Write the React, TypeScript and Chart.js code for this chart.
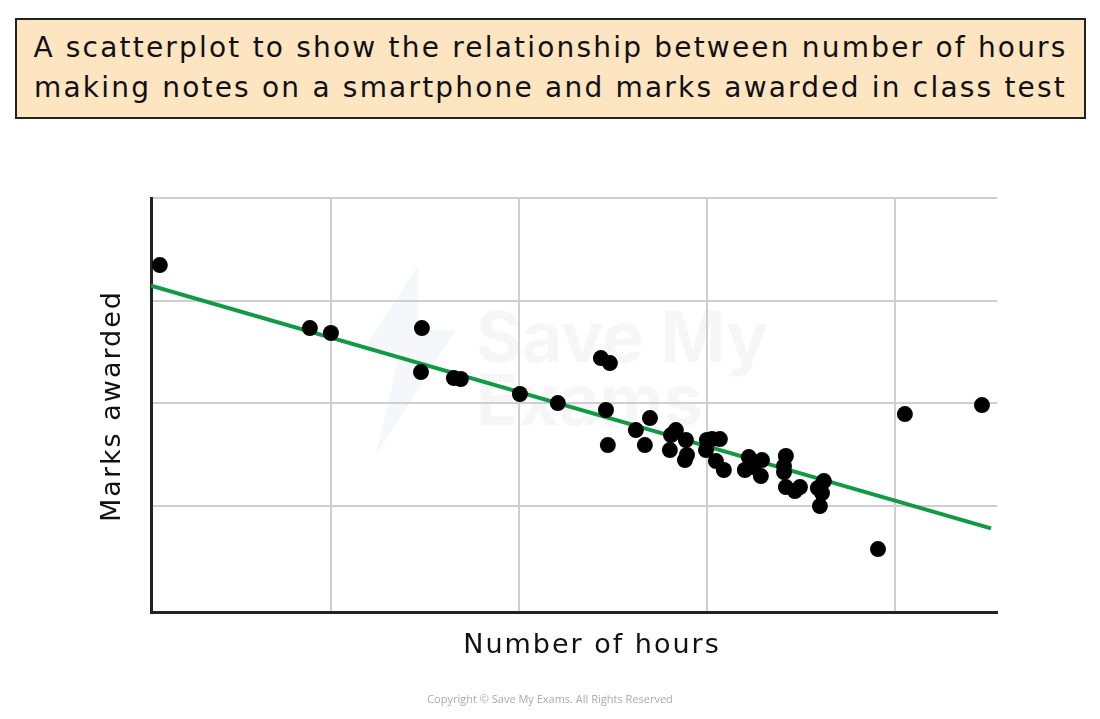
import React, { useEffect, useRef } from "react";
import { Chart, registerables } from "chart.js";

Chart.register(...registerables);

// Data
const hours = [
  0.09, 0.888, 1.0, 1.484, 1.479, 1.654, 1.691, 2.005, 2.207, 2.436, 2.484, 2.463, 2.473,
  2.622, 2.67, 2.697, 2.803, 2.809, 2.835, 2.888, 2.883, 2.894, 3.0, 3.027, 3.069, 2.995,
  3.048, 3.09, 3.202, 3.223, 3.245, 3.287, 3.293, 3.42, 3.41, 3.41, 3.42, 3.468, 3.495,
  3.59, 3.612, 3.622, 3.601, 3.91, 4.053, 4.463,
];
const marks = [
  33.47, 27.33, 26.85, 27.33, 23.05, 22.46, 22.37, 20.91, 20.03, 24.41, 23.92, 19.35, 15.94,
  17.4, 15.94, 18.57, 15.45, 16.91, 17.4, 16.43, 14.48, 14.97, 16.43, 16.52, 16.52, 15.45,
  14.38, 13.51, 13.51, 14.77, 13.8, 12.92, 14.48, 14.87, 13.89, 13.31, 11.85, 11.46, 11.85,
  11.75, 11.27, 12.43, 10.0, 5.81, 18.96, 19.83,
];
const trendHours = [0.043, 4.511];
const trendMarks = [31.45, 7.83];
const xGridValues = [1, 2, 3, 4];
const yGridValues = [10, 20, 30, 40];
const titleLines = [
  "A scatterplot to show the relationship between number of hours",
  "making notes on a smartphone and marks awarded in class test",
];
const xAxisTitle = "Number of hours";
const yAxisTitle = "Marks awarded";
const copyrightText = "Copyright © Save My Exams. All Rights Reserved";

const FONT = '"DejaVu Sans", "Noto Sans", sans-serif';

const watermarkPlugin = {
  id: "watermark",
  beforeDraw(chart: any) {
    const ctx = chart.ctx;
    ctx.save();
    ctx.fillStyle = "rgba(225,228,242,0.3)";
    ctx.beginPath();
    ctx.moveTo(418, 265);
    ctx.lineTo(362, 352);
    ctx.lineTo(400, 352);
    ctx.lineTo(376, 455);
    ctx.lineTo(456, 330);
    ctx.lineTo(418, 330);
    ctx.closePath();
    ctx.fill();
    ctx.fillStyle = "rgba(0,0,0,0.035)";
    ctx.font = 'bold 70px Inter, "Noto Sans", sans-serif';
    ctx.textBaseline = "alphabetic";
    ctx.textAlign = "left";
    ctx.fillText("Save My", 476, 362);
    ctx.fillText("Exams", 476, 425);
    ctx.restore();
  },
};

const axisTitlePlugin = {
  id: "axisTitles",
  afterDraw(chart: any) {
    const ctx = chart.ctx;
    ctx.save();
    ctx.fillStyle = "#111";
    ctx.font = `27px ${FONT}`;
    (ctx as any).letterSpacing = "2px";
    ctx.textAlign = "center";
    ctx.textBaseline = "middle";
    ctx.fillText(xAxisTitle, 592, 646);
    ctx.translate(113, 406);
    ctx.rotate(-Math.PI / 2);
    ctx.fillText(yAxisTitle, 0, 0);
    ctx.restore();
  },
};

export default function App() {
  const canvasRef = useRef<HTMLCanvasElement | null>(null);

  useEffect(() => {
    if (!canvasRef.current) return;
    const chart = new Chart(canvasRef.current, {
      type: "scatter",
      data: {
        datasets: [
          {
            label: "Marks",
            data: hours.map((h, i) => ({ x: h, y: marks[i] })),
            pointRadius: 8,
            pointHoverRadius: 8,
            backgroundColor: "#000",
            borderWidth: 0,
            order: 1,
          },
          {
            label: "Line of best fit",
            data: trendHours.map((h, i) => ({ x: h, y: trendMarks[i] })),
            showLine: true,
            pointRadius: 0,
            borderColor: "#0f9a43",
            borderWidth: 4,
            order: 2,
          } as any,
        ],
      },
      options: {
        responsive: false,
        animation: false,
        devicePixelRatio: 1,
        layout: { padding: { top: 198, right: 103, left: 0, bottom: 0 } },
        plugins: { legend: { display: false }, tooltip: { enabled: false }, title: { display: false } },
        scales: {
          x: {
            type: "linear",
            min: 0.043,
            max: 4.543,
            afterBuildTicks: (s: any) => {
              s.ticks = xGridValues.map((v) => ({ value: v }));
            },
            afterFit: (s: any) => {
              s.height = 107;
            },
            ticks: { display: false },
            grid: { color: "#cfcfcf", lineWidth: 2, drawTicks: false },
            border: { display: true, color: "#222", width: 3 },
          },
          y: {
            type: "linear",
            min: -0.32,
            max: 40,
            afterBuildTicks: (s: any) => {
              s.ticks = yGridValues.map((v) => ({ value: v }));
            },
            afterFit: (s: any) => {
              s.width = 151;
            },
            ticks: { display: false },
            grid: { color: "#cfcfcf", lineWidth: 2, drawTicks: false },
            border: { display: true, color: "#222", width: 3 },
          },
        },
      },
      plugins: [watermarkPlugin, axisTitlePlugin],
    });
    return () => chart.destroy();
  }, []);

  return (
    <div style={{ position: "absolute", left: 0, top: 0, width: 1100, height: 719, background: "#fff", overflow: "hidden" }}>
      <canvas ref={canvasRef} width={1100} height={719} style={{ position: "absolute", left: 0, top: 0, width: 1100, height: 719 }} />
      <div
        style={{
          position: "absolute",
          left: 15,
          top: 18,
          width: 1071,
          height: 101,
          boxSizing: "border-box",
          background: "#fde5c1",
          border: "2px solid #222",
          fontFamily: FONT,
          fontSize: 28,
          lineHeight: "40px",
          letterSpacing: "2.2px",
          textAlign: "center",
          color: "#111",
          paddingTop: 8,
          whiteSpace: "nowrap",
        }}
      >
        {titleLines.map((t, i) => (
          <div key={i}>{t}</div>
        ))}
      </div>
      <div
        style={{
          position: "absolute",
          left: 0,
          width: 1100,
          top: 691,
          textAlign: "center",
          fontFamily: '"Open Sans", sans-serif',
          fontSize: 11,
          color: "#aaa",
        }}
      >
        {copyrightText}
      </div>
    </div>
  );
}
